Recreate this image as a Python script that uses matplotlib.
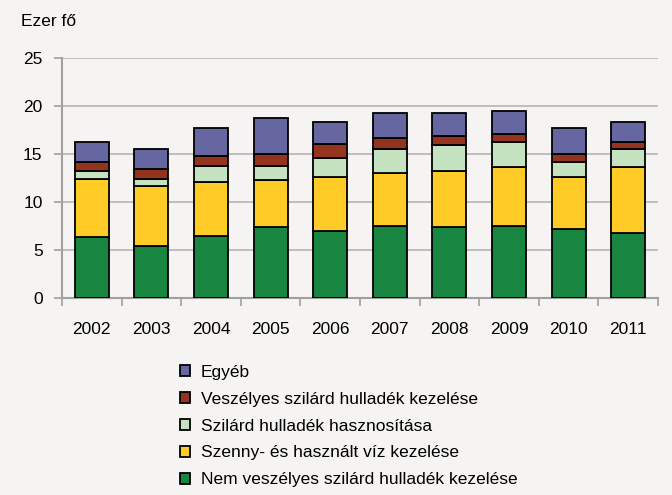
import numpy as np
import matplotlib.pyplot as plt

plt.rcParams['font.family'] = ['Liberation Sans', 'DejaVu Sans']

years = ['2002', '2003', '2004', '2005', '2006', '2007', '2008', '2009', '2010', '2011']

# ezer fő, alulról felfelé
nem_veszelyes = [6.4, 5.45, 6.45, 7.4, 7.0, 7.55, 7.4, 7.55, 7.2, 6.8]
szennyviz = [6.0, 6.2, 5.6, 4.85, 5.6, 5.5, 5.8, 6.05, 5.4, 6.8]
hasznositas = [0.8, 0.75, 1.75, 1.5, 1.95, 2.5, 2.75, 2.6, 1.6, 1.9]
veszelyes = [1.0, 1.0, 1.0, 1.2, 1.45, 1.15, 0.95, 0.9, 0.75, 0.8]
egyeb = [2.0, 2.15, 2.95, 3.75, 2.3, 2.55, 2.35, 2.4, 2.75, 2.0]

series = [
    ('Nem veszélyes szilárd hulladék kezelése', nem_veszelyes, '#188540'),
    ('Szenny- és használt víz kezelése', szennyviz, '#ffcb27'),
    ('Szilárd hulladék hasznosítása', hasznositas, '#c5e3c1'),
    ('Veszélyes szilárd hulladék kezelése', veszelyes, '#94331e'),
    ('Egyéb', egyeb, '#6667a0'),
]

bg = '#f5f4f2'
fs = 12.5
fig = plt.figure(figsize=(6.72, 4.95), dpi=100, facecolor=bg)
ax = fig.add_axes([62 / 672, 1 - 298 / 495, 596 / 672, 240 / 495], facecolor=bg)

x = np.arange(len(years))
bottom = np.zeros(len(years))
handles = []
for name, vals, col in series:
    b = ax.bar(x, vals, 0.57, bottom=bottom, color=col, edgecolor='black',
               linewidth=1.3, label=name, zorder=3)
    handles.append(b)
    bottom += np.array(vals)

ax.set_xlim(-0.5, len(years) - 0.5)
ax.set_ylim(0, 25)
ax.set_yticks([0, 5, 10, 15, 20, 25])
ax.yaxis.grid(True, color='#b4b4b4', linewidth=1.2, zorder=0)

ax.set_xticks(x)
ax.set_xticklabels(years)
ax.set_xticks(np.arange(-0.5, len(years), 1), minor=True)
ax.tick_params(axis='x', which='major', length=0, labelsize=fs, pad=17)
ax.tick_params(axis='x', which='minor', length=6, width=1.2, color='#a0a0a0')
ax.tick_params(axis='y', length=6, width=1.2, color='#a0a0a0', labelsize=fs, pad=8)

for s in ['top', 'right']:
    ax.spines[s].set_visible(False)
for s in ['left', 'bottom']:
    ax.spines[s].set_color('#a0a0a0')
    ax.spines[s].set_linewidth(1.5)

fig.text(21 / 672, 1 - 21 / 495, 'Ezer fő', fontsize=fs, va='center', ha='left')

leg = fig.legend(handles[::-1], [s[0] for s in series][::-1],
                 loc='upper left', bbox_to_anchor=(180 / 672, 1 - 365 / 495),
                 frameon=False, fontsize=fs, handlelength=0.6, handleheight=0.6,
                 handletextpad=0.6, labelspacing=0.68, borderaxespad=0,
                 borderpad=0)

fig.savefig('out.png', dpi=100, facecolor=bg)
